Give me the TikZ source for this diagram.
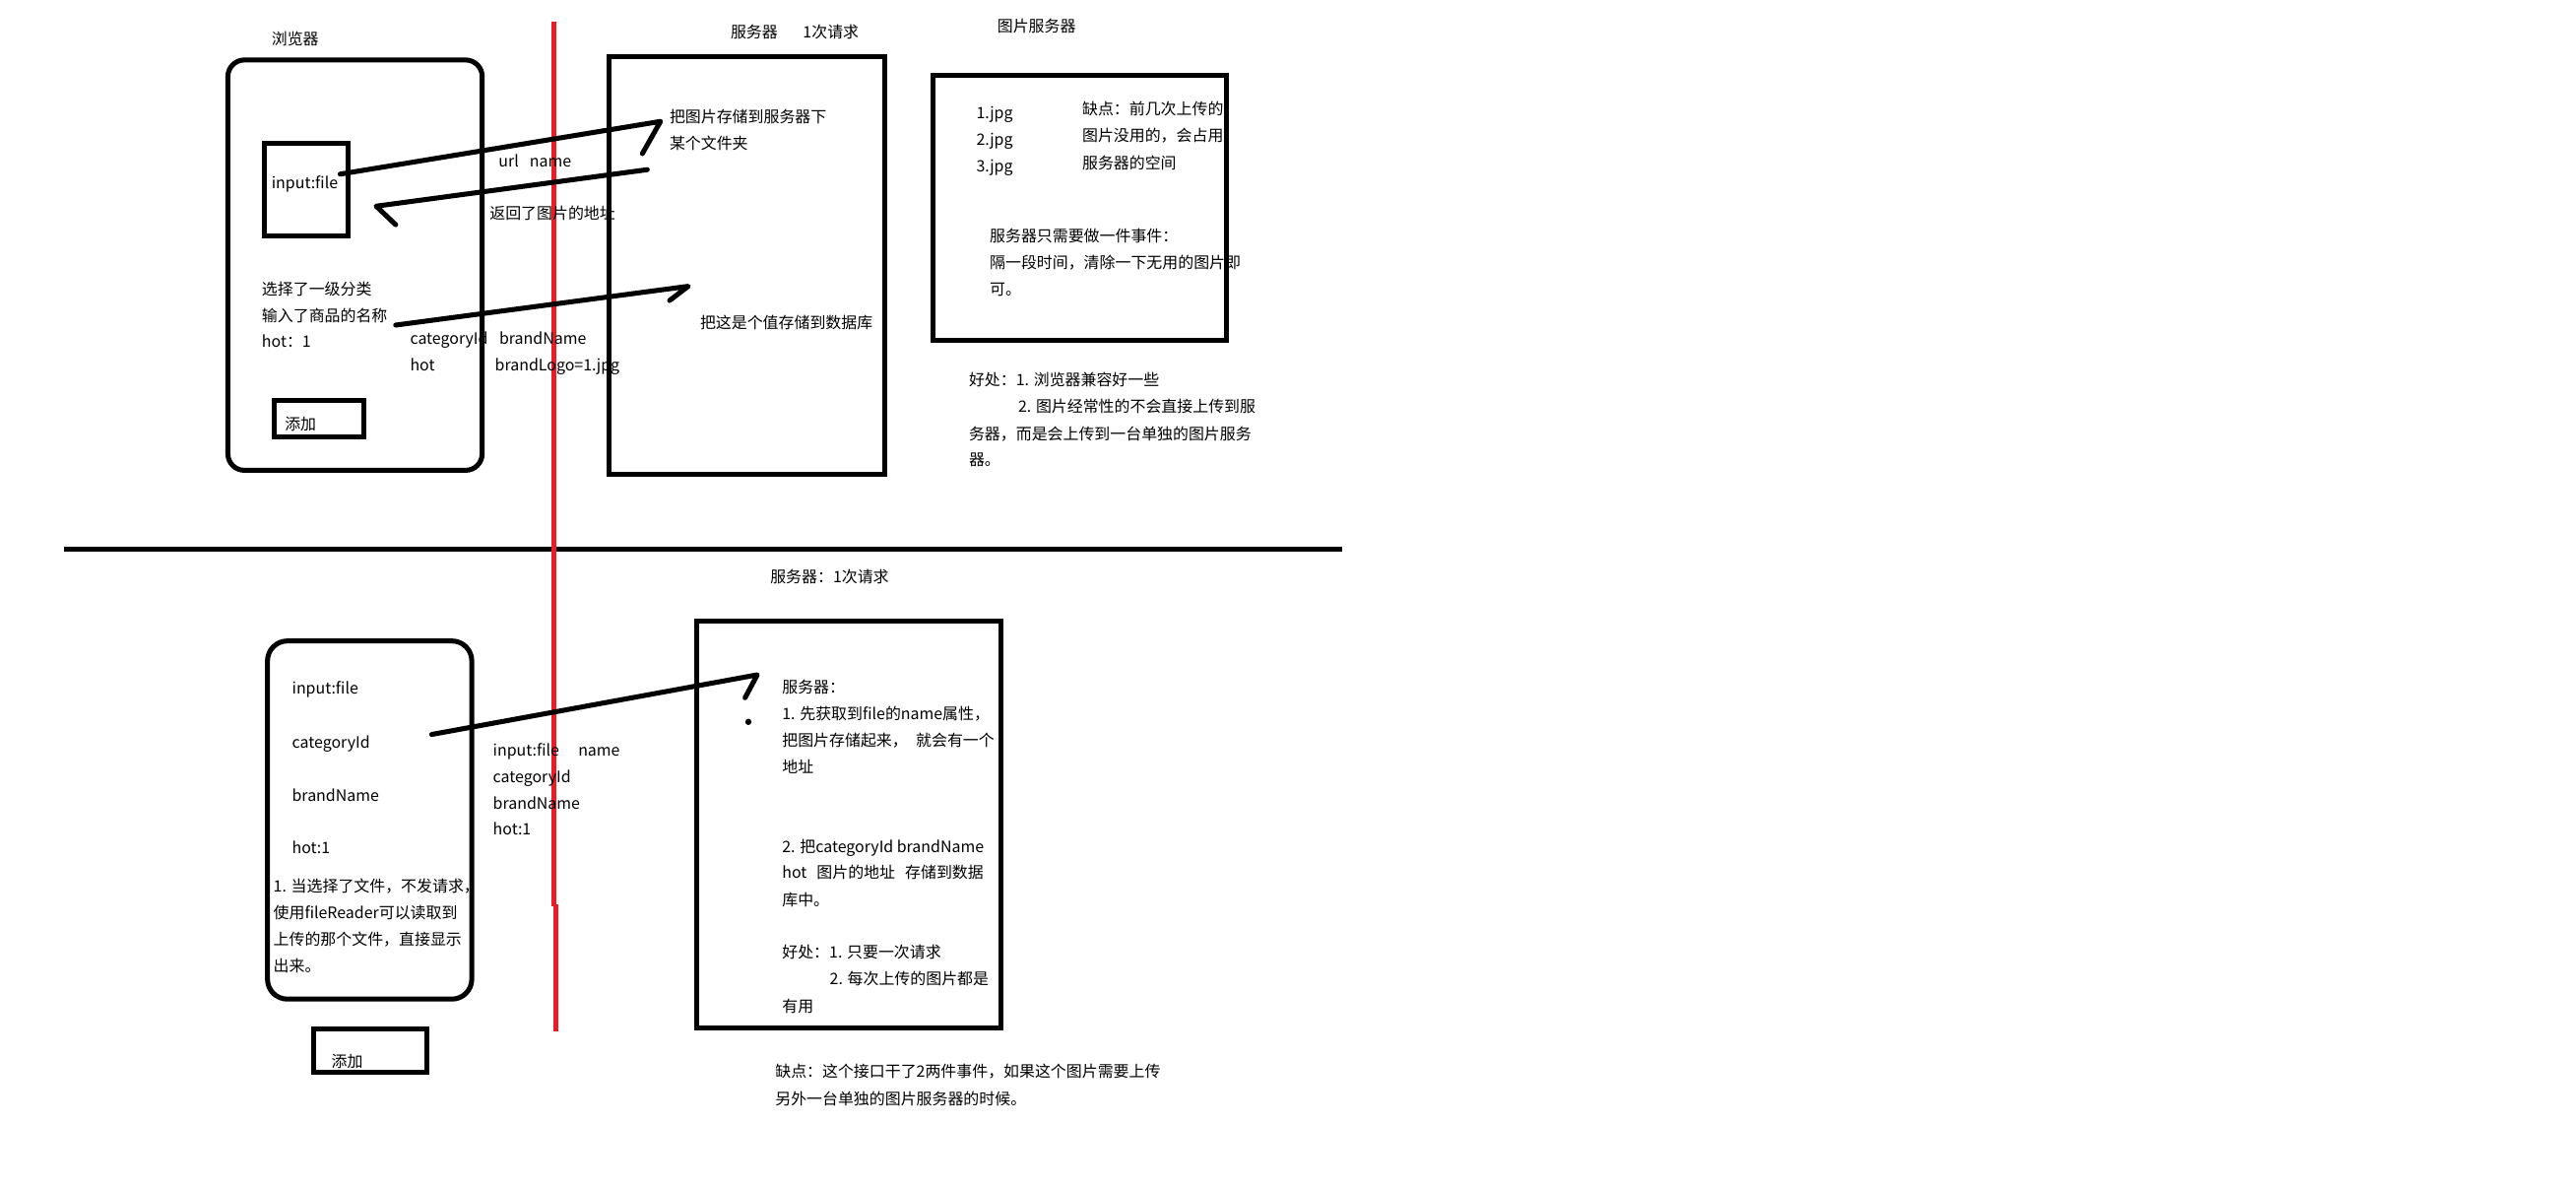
\documentclass[tikz,border=0pt]{standalone}
\usepackage{fontspec}
\setmainfont{Noto Sans CJK SC}
\definecolor{pred}{HTML}{ED1C24}
\tikzset{
  txt/.style={anchor=base west, inner sep=0pt, outer sep=0pt, font=\fontsize{9.5pt}{12pt}\selectfont},
  sqbox/.style={draw, line width=3pt, anchor=north west, inner sep=0pt, outer sep=0pt},
  rbox/.style={sqbox, rounded corners=#1},
  stroke/.style={line width=3pt, line cap=round, line join=round},
  redstroke/.style={draw=pred, line width=2.8pt},
}
\begin{document}
\begin{tikzpicture}[x=1pt, y=-1pt]
\useasboundingbox (0,0) rectangle (1560,720);
% ---------- top: boxes ----------
\node (bbox) [rbox=10pt, minimum width=154pt, minimum height=248.4pt] at (138,36.3) {};
\node (inbox) [sqbox, minimum width=51pt, minimum height=56pt] at (160,87) {};
\node (addA) [sqbox, minimum width=54.3pt, minimum height=22pt] at (166,242.6) {};
\node (srvA) [sqbox, minimum width=167pt, minimum height=253pt] at (368.8,34.3) {};
\node (picA) [sqbox, minimum width=177.8pt, minimum height=160.5pt] at (565,45.5) {};
% ---------- separators ----------
\coordinate (hl1) at (38.5,332.3);
\coordinate (hl2) at (812.5,332.3);
\draw[line width=3pt] (hl1) -- (hl2);
\coordinate (rl1) at (335.5,13);
\coordinate (rl2) at (335.5,548.5);
\coordinate (rl3) at (336.7,547.5);
\coordinate (rl4) at (336.7,624.5);
\draw[redstroke] (rl1) -- (rl2);
\draw[redstroke] (rl3) -- (rl4);
% ---------- top: strokes ----------
\coordinate (a1s) at (206,105.4);
\coordinate (a1e) at (400,73.5);
\coordinate (a1h) at (389,93);
\draw[stroke] (a1s) -- (a1e) -- (a1h);
\coordinate (a2s) at (392,102.7);
\coordinate (a2e) at (227.8,124.8);
\coordinate (a2h) at (239.6,136);
\draw[stroke] (a2s) -- (a2e) -- (a2h);
\coordinate (a3s) at (239.6,196.8);
\coordinate (a3e) at (416.8,173.3);
\coordinate (a3h) at (405.5,181.9);
\draw[stroke] (a3s) -- (a3e) -- (a3h);
% ---------- top: texts ----------
\node (tBrowser) [txt] at (164.5,27.4) {浏览器};
\node (tSrv) [txt] at (442.5,23) {服务器};
\node (tSrvReq) [txt] at (486.3,23) {1次请求};
\node (tPic) [txt] at (604,19.5) {图片服务器};
\node (tInput) [txt] at (164.5,114) {input:file};
\node (tUrl) [txt] at (302,101) {url};
\node (tName) [txt] at (320.8,101) {name};
\node (tRet) [txt] at (296.6,132.5) {返回了图片的地址};
\node (tSave1) [txt] at (405.5,74) {把图片存储到服务器下};
\node (tSave2) [txt] at (405.5,90.4) {某个文件夹};
\node (tSel1) [txt] at (158.6,178.4) {选择了一级分类};
\node (tSel2) [txt] at (158.6,194.7) {输入了商品的名称};
\node (tSel3) [txt] at (158.6,210.2) {hot：1};
\node (tCat) [txt] at (248.4,208.7) {categoryId};
\node (tBrand) [txt] at (302.4,208.7) {brandName};
\node (tHot) [txt] at (248.4,224.7) {hot};
\node (tLogo) [txt] at (299.8,224.7) {brandLogo=1.jpg};
\node (tAddA) [txt] at (172.5,260) {添加};
\node (tDb) [txt] at (424,199) {把这是个值存储到数据库};
\node (tJ1) [txt] at (591.3,72) {1.jpg};
\node (tJ2) [txt] at (591.3,88) {2.jpg};
\node (tJ3) [txt] at (591.3,104) {3.jpg};
\node (tCon1) [txt] at (655.4,69.2) {缺点：前几次上传的};
\node (tCon2) [txt] at (655.4,85.7) {图片没用的，会占用};
\node (tCon3) [txt] at (655.4,102) {服务器的空间};
\node (tOnly1) [txt] at (599.4,146.3) {服务器只需要做一件事件：};
\node (tOnly2) [txt] at (599.4,162.6) {隔一段时间，清除一下无用的图片即};
\node (tOnly3) [txt] at (599.4,178.5) {可。};
\node (tPro1) [txt] at (586.8,233.6) {好处：1. 浏览器兼容好一些};
\node (tPro2) [txt] at (616.6,249.6) {2. 图片经常性的不会直接上传到服};
\node (tPro3) [txt] at (586.8,266) {务器，而是会上传到一台单独的图片服务};
\node (tPro4) [txt] at (586.8,281.9) {器。};
% ---------- bottom: boxes ----------
\node (bboxB) [rbox=12pt, minimum width=123.7pt, minimum height=216.8pt] at (162,388) {};
\node (addB) [sqbox, minimum width=68.6pt, minimum height=26.1pt] at (189.9,623) {};
\node (srvB) [sqbox, minimum width=184.4pt, minimum height=246pt] at (421.9,376.2) {};
% ---------- bottom: stroke ----------
\coordinate (a4s) at (261.4,444.6);
\coordinate (a4e) at (458.6,408.5);
\coordinate (a4h) at (451.2,422.4);
\draw[stroke] (a4s) -- (a4e) -- (a4h);
\coordinate (dot) at (453.2,437);
\fill (dot) circle (1.9pt);
% ---------- bottom: texts ----------
\node (uSrv) [txt] at (466.5,352.8) {服务器：1次请求};
\node (uIn) [txt] at (176.9,420.3) {input:file};
\node (uCat) [txt] at (176.9,452.7) {categoryId};
\node (uBrand) [txt] at (176.9,484.9) {brandName};
\node (uHot) [txt] at (176.9,516.7) {hot:1};
\node (uNote1) [txt] at (165.6,539.9) {1. 当选择了文件，不发请求，};
\node (uNote2) [txt] at (165.6,555.8) {使用fileReader可以读取到};
\node (uNote3) [txt] at (165.6,572) {上传的那个文件，直接显示};
\node (uNote4) [txt] at (165.6,588.4) {出来。};
\node (uAdd) [txt] at (200.8,646) {添加};
\node (mIn) [txt] at (298.6,457.8) {input:file};
\node (mName) [txt] at (350.2,457.8) {name};
\node (mCat) [txt] at (298.6,473.6) {categoryId};
\node (mBrand) [txt] at (298.6,489.6) {brandName};
\node (mHot) [txt] at (298.6,505.6) {hot:1};
\node (s1) [txt] at (473.7,419.6) {服务器：};
\node (s2) [txt] at (473.7,435.6) {1. 先获取到file的name属性，};
\node (s3) [txt] at (473.7,451.6) {把图片存储起来，\hspace{5pt}就会有一个};
\node (s4) [txt] at (473.7,467.6) {地址};
\node (s5) [txt] at (473.7,515.9) {2. 把categoryId brandName};
\node (s6) [txt] at (473.7,531.8) {hot\hspace{6pt}图片的地址\hspace{6pt}存储到数据};
\node (s7) [txt] at (473.7,548.3) {库中。};
\node (s8) [txt] at (473.7,580) {好处：1. 只要一次请求};
\node (s9) [txt] at (502.5,595.9) {2. 每次上传的图片都是};
\node (s10) [txt] at (473.7,612.8) {有用};
\node (c1) [txt] at (469.5,652) {缺点：这个接口干了2两件事件，如果这个图片需要上传};
\node (c2) [txt] at (469.5,668.5) {另外一台单独的图片服务器的时候。};
\end{tikzpicture}
\end{document}
